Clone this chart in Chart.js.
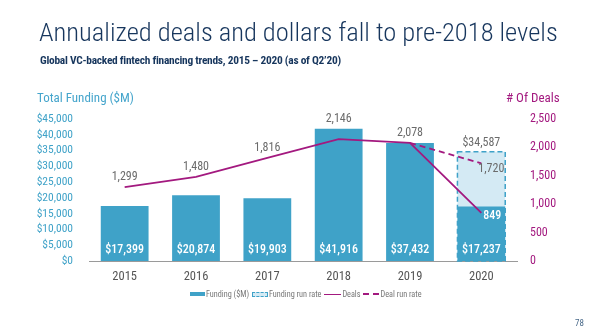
<!DOCTYPE html>
<html>
<head>
<meta charset="utf-8">
<script src="https://cdn.jsdelivr.net/npm/chart.js@4.4.0/dist/chart.umd.min.js"></script>
<style>
  body { margin: 0; background: #fff; }
  #wrap { position: relative; width: 600px; height: 334px; overflow: hidden; font-family: 'Roboto Condensed', Roboto, sans-serif; }
  canvas { position: absolute; left: 0; top: 0; }
  .txt { position: absolute; white-space: nowrap; line-height: 1; }
  #title { left: 39px; top: 19px; font-size: 26.5px; font-weight: 300; color: #17365d; }
  #subtitle { left: 40px; top: 55px; font-size: 11.4px; font-weight: 700; letter-spacing: -0.25px; color: #17365d; }
  #ltitle { left: 37px; top: 91px; font-size: 13px; color: #45a5cc; }
  #rtitle { left: 506px; top: 91px; font-size: 13px; color: #a3197f; }
  #page { left: 575px; top: 319px; font-size: 9px; color: #4a6a8a; }
  #legend { position: absolute; left: 190px; top: 289px; display: flex; align-items: center; font-size: 8.2px; color: #777; }
  #legend span.item { display: flex; align-items: center; margin-right: 3px; }
  #legend i { display: inline-block; margin-right: 1px; box-sizing: border-box; }
</style>
</head>
<body>
<div id="wrap">
  <canvas id="chart" width="600" height="334"></canvas>
  <div class="txt" id="title">Annualized deals and dollars fall to pre-2018 levels</div>
  <div class="txt" id="subtitle">Global VC-backed fintech financing trends, 2015 – 2020 (as of Q2’20)</div>
  <div class="txt" id="ltitle">Total Funding ($M)</div>
  <div class="txt" id="rtitle"># Of Deals</div>
  <div id="legend"></div>
  <div class="txt" id="page">78</div>
</div>
<script>
const years = ['2015', '2016', '2017', '2018', '2019', '2020'];
const funding = [17399, 20874, 19903, 41916, 37432, 17237];
const fundingRunRate = [null, null, null, null, null, 34587];
const deals = [1299, 1480, 1816, 2146, 2078, 849];
const dealRunRate = [null, null, null, null, 2078, 1720];
const seriesNames = ['Funding ($M)', 'Funding run rate', 'Deals', 'Deal run rate'];

const BLUE = '#3fa2c8';
const LIGHT = '#d4eaf4';
const PURPLE = '#a3197f';
const GREY = '#6b6b6b';
const FONT = "'Roboto Condensed', Roboto, sans-serif";

const fmt = v => v.toLocaleString('en-US');

// legend (html)
const legendEl = document.getElementById('legend');
const markers = [
    'width:15px;height:4px;background:' + BLUE,
    'width:16px;height:5px;background:' + LIGHT + ';border:1px dashed ' + BLUE,
    'width:17px;height:0;border-top:1.5px solid ' + PURPLE,
    'width:16px;height:1.5px;background:linear-gradient(90deg,' + PURPLE + ' 0 6px,transparent 6px 10px,' + PURPLE + ' 10px 16px)'
];
seriesNames.forEach((name, i) => {
    const s = document.createElement('span');
    s.className = 'item';
    s.innerHTML = '<i style="' + markers[i] + '"></i>' + name;
    legendEl.appendChild(s);
});

const labelPlugin = {
    id: 'labels',
    afterDatasetDraw(chart, args) {
        // dashed outline of the run-rate bar, under the lines
        if (args.index !== 0) return;
        const ctx = chart.ctx;
        const meta = chart.getDatasetMeta(1);
        meta.data.forEach((bar, i) => {
            if (fundingRunRate[i] == null) return;
            const p = bar.getProps(['x', 'y', 'base', 'width'], true);
            ctx.save();
            ctx.strokeStyle = BLUE;
            ctx.lineWidth = 1.5;
            ctx.setLineDash([5, 3]);
            ctx.strokeRect(p.x - p.width / 2, p.y, p.width, p.base - p.y);
            ctx.restore();
        });
    },
    afterDatasetsDraw(chart) {
        const ctx = chart.ctx;
        const fMeta = chart.getDatasetMeta(0);
        const rMeta = chart.getDatasetMeta(1);
        const dMeta = chart.getDatasetMeta(2);
        const drMeta = chart.getDatasetMeta(3);
        ctx.save();
        ctx.textAlign = 'center';
        ctx.textBaseline = 'middle';

        // funding values inside bars
        ctx.font = '500 12px ' + FONT;
        ctx.fillStyle = '#ffffff';
        fMeta.data.forEach((bar, i) => {
            ctx.fillText('$' + fmt(funding[i]), bar.x, bar.base - 11);
        });

        // run rate value above bar
        ctx.font = '12px ' + FONT;
        ctx.fillStyle = GREY;
        rMeta.data.forEach((bar, i) => {
            if (fundingRunRate[i] == null) return;
            ctx.fillText('$' + fmt(fundingRunRate[i]), bar.x, bar.y - 9);
        });

        // deal values
        dMeta.data.forEach((pt, i) => {
            if (i === deals.length - 1) {
                ctx.fillStyle = '#ffffff';
                ctx.font = '500 12px ' + FONT;
                ctx.fillText(fmt(deals[i]), pt.x + 11, pt.y + 3);
                return;
            }
            const top = Math.min(pt.y, fMeta.data[i].y);
            ctx.fillStyle = GREY;
            ctx.font = '12px ' + FONT;
            ctx.fillText(fmt(deals[i]), pt.x, top - 10);
        });

        // deal run rate value
        ctx.fillStyle = GREY;
        ctx.font = '12px ' + FONT;
        drMeta.data.forEach((pt, i) => {
            if (dealRunRate[i] == null || i !== dealRunRate.length - 1) return;
            ctx.fillText(fmt(dealRunRate[i]), pt.x + 10, pt.y + 6);
        });
        ctx.restore();
    }
};

new Chart(document.getElementById('chart'), {
    type: 'bar',
    data: {
        labels: years,
        datasets: [
            {
                label: seriesNames[0],
                data: funding,
                backgroundColor: BLUE,
                yAxisID: 'y',
                grouped: false,
                order: 2,
                barPercentage: 0.67,
                categoryPercentage: 1
            },
            {
                label: seriesNames[1],
                data: fundingRunRate,
                backgroundColor: LIGHT,
                yAxisID: 'y',
                grouped: false,
                order: 3,
                barPercentage: 0.67,
                categoryPercentage: 1
            },
            {
                type: 'line',
                label: seriesNames[2],
                data: deals,
                borderColor: PURPLE,
                borderWidth: 1.8,
                pointRadius: 0,
                tension: 0,
                yAxisID: 'y1',
                order: 1
            },
            {
                type: 'line',
                label: seriesNames[3],
                data: dealRunRate,
                borderColor: PURPLE,
                borderWidth: 1.8,
                borderDash: [6, 4],
                pointRadius: 0,
                tension: 0,
                yAxisID: 'y1',
                order: 1
            }
        ]
    },
    options: {
        responsive: false,
        animation: false,
        events: [],
        layout: { padding: { top: 119, bottom: 43, left: 0, right: 0 } },
        plugins: {
            legend: { display: false },
            tooltip: { enabled: false }
        },
        scales: {
            x: {
                grid: { display: false, drawTicks: false },
                border: { display: true, color: '#9a9a9a', width: 1 },
                ticks: { color: '#555', padding: 8, font: { family: FONT, size: 12.5 } },
                afterFit: s => { s.height = 30; }
            },
            y: {
                position: 'left',
                min: 0,
                max: 45000,
                grid: { display: false, drawTicks: false },
                border: { display: false },
                ticks: {
                    stepSize: 5000,
                    autoSkip: false,
                    color: BLUE,
                    padding: 16,
                    font: { family: FONT, size: 11.5 },
                    callback: v => '$' + fmt(v)
                },
                afterFit: s => { s.width = 89; }
            },
            y1: {
                position: 'right',
                min: 0,
                max: 2500,
                grid: { display: false, drawTicks: false },
                border: { display: false },
                ticks: {
                    stepSize: 500,
                    autoSkip: false,
                    color: PURPLE,
                    padding: 13,
                    font: { family: FONT, size: 12 },
                    callback: v => fmt(v)
                },
                afterFit: s => { s.width = 83; }
            }
        }
    },
    plugins: [labelPlugin]
});
</script>
</body>
</html>
